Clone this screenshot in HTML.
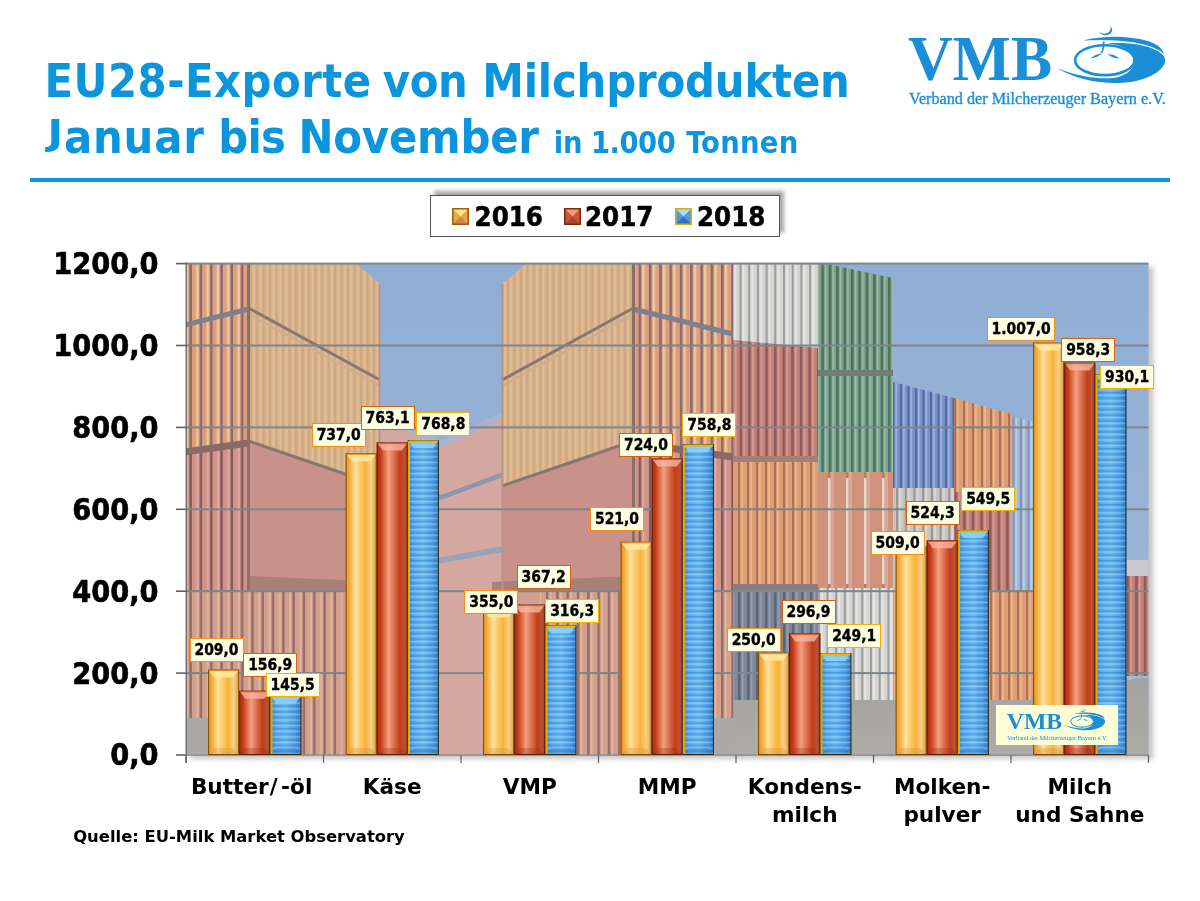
<!DOCTYPE html>
<html lang="de"><head><meta charset="utf-8"><title>EU28-Exporte von Milchprodukten</title>
<style>
html,body{margin:0;padding:0;background:#fff;}
body{width:1200px;height:901px;position:relative;overflow:hidden;}
.abs{position:absolute;left:0;top:0;}
.t{white-space:nowrap;line-height:1;}
.lab{position:absolute;box-sizing:border-box;height:24px;width:54px;background:#fdfde2;border:1.6px solid #f29018;
 font:bold 15.5px 'DejaVu Sans Condensed','DejaVu Sans','Liberation Sans',sans-serif;line-height:22.6px;text-align:center;-webkit-text-stroke:0.35px #000;color:#000;white-space:nowrap;}
.l17{border-color:#d9600e;}
.l18{border-color:#f6b200;}
.mk{position:absolute;width:17px;height:17px;box-sizing:border-box;}
</style></head><body>
<div class="abs t" style="left:44.5px;top:57.7px;font:bold 46.5px 'DejaVu Sans Condensed','DejaVu Sans','Liberation Sans',sans-serif;line-height:1;color:#0b95dc;letter-spacing:0.477px;">EU28-Exporte</div>
<div class="abs t" style="left:382.8px;top:57.7px;font:bold 46.5px 'DejaVu Sans Condensed','DejaVu Sans','Liberation Sans',sans-serif;line-height:1;color:#0b95dc;letter-spacing:-0.375px;">von</div>
<div class="abs t" style="left:482.2px;top:57.7px;font:bold 46.5px 'DejaVu Sans Condensed','DejaVu Sans','Liberation Sans',sans-serif;line-height:1;color:#0b95dc;letter-spacing:-0.173px;">Milchprodukten</div>
<div class="abs t" style="left:47.5px;top:114.2px;font:bold 46.5px 'DejaVu Sans Condensed','DejaVu Sans','Liberation Sans',sans-serif;line-height:1;color:#0b95dc;letter-spacing:0.85px;"><span style="display:inline-block;transform:scaleY(0.764);transform-origin:0 5.84px">J</span>anuar</div>
<div class="abs t" style="left:218.2px;top:114.2px;font:bold 46.5px 'DejaVu Sans Condensed','DejaVu Sans','Liberation Sans',sans-serif;line-height:1;color:#0b95dc;letter-spacing:-0.75px;">bis</div>
<div class="abs t" style="left:298.5px;top:114.2px;font:bold 46.5px 'DejaVu Sans Condensed','DejaVu Sans','Liberation Sans',sans-serif;line-height:1;color:#0b95dc;letter-spacing:-0.214px;">November</div>
<div class="abs t" style="left:553.8px;top:127.7px;font:bold 30.5px 'DejaVu Sans Condensed','DejaVu Sans','Liberation Sans',sans-serif;line-height:1;color:#0b95dc;letter-spacing:-0.25px;">in</div>
<div class="abs t" style="left:591.0px;top:127.7px;font:bold 30.5px 'DejaVu Sans Condensed','DejaVu Sans','Liberation Sans',sans-serif;line-height:1;color:#0b95dc;letter-spacing:-0.5px;">1.000</div>
<div class="abs t" style="left:686.2px;top:127.7px;font:bold 30.5px 'DejaVu Sans Condensed','DejaVu Sans','Liberation Sans',sans-serif;line-height:1;color:#0b95dc;letter-spacing:0.25px;">Tonnen</div>
<div class="abs t" style="left:908.0px;top:27.1px;font:bold 64px 'Liberation Serif','DejaVu Serif',serif;line-height:1;color:#1b8ed8;transform:scaleX(0.965);transform-origin:0 0;">VMB</div>
<div class="abs t" style="left:909.0px;top:90.9px;font:16.2px 'Liberation Serif','DejaVu Serif',serif;line-height:1;color:#1b8ed8;-webkit-text-stroke:0.35px #1b8ed8;">Verband der Milcherzeuger Bayern e.V.</div>
<svg class="abs" style="left:1050px;top:20px" width="120" height="70" viewBox="0 0 120 70">
<g fill="#1b8ed8">
<path d="M57,23.5 C80,21.5 105,26 113.5,35.5 C120,45 106,57.5 82,61.8 C58,65.5 28,61 7,48 C28,56.5 46,58.8 60,58.3 C74,57.6 84.4,50 84.4,40.5 C84,31 73,25 57,23.5 Z"/>
<path d="M33,20.5 C55,15 86,15.5 104,23.5 C110,26.5 113,30 114,34 C108,28.5 97,24.5 83,22.3 C66,19.8 49,19.6 33,20.5 Z"/>
<ellipse cx="54.8" cy="40.2" rx="29.6" ry="14.9" fill="none" stroke="#1b8ed8" stroke-width="2.6"/>
<path d="M48.5,11.5 C52,14.5 58,14.5 60,10.5 C61,8.5 61,7.2 60.3,6 C62.6,8 62.8,11.5 60.5,13.5 C57,16.3 51,15.5 48.5,11.5 Z"/>
<path d="M52.8,21.5 L54.6,21.5 C54.6,26 54,30.5 52,33.5 L50.6,33.2 C52.3,30 52.9,26 52.8,21.5 Z"/>
<path d="M40.5,38.6 C43,36 47,34.2 51.5,33.6 C49.5,36 45.5,38 40.5,38.6 Z"/>
<path d="M57.8,34 C62,34.2 66.5,35.8 69.5,38.6 C65,38.6 60.5,37 57.8,34 Z"/>
</g></svg>
<div class="abs" style="left:30px;top:178px;width:1140px;height:4px;background:#0b95dc"></div>
<svg class="abs" width="1200" height="901" viewBox="0 0 1200 901">
<defs><linearGradient id="sky" x1="0" y1="0" x2="0" y2="1">
<stop offset="0" stop-color="#90aed4"/><stop offset="0.6" stop-color="#98b4d6"/><stop offset="1" stop-color="#a6bed8"/></linearGradient>
<pattern id="ribTan" patternUnits="userSpaceOnUse" x="0" y="0" width="6.5" height="10"><rect width="6.5" height="10" fill="#d8b28a"/><rect x="0" width="2" height="10" fill="#cfa782"/><rect x="3" width="2" height="10" fill="#dfbe96"/></pattern>
<pattern id="ribSide" patternUnits="userSpaceOnUse" x="0" y="0" width="10.3" height="10"><rect width="10.3" height="10" fill="#dea27c"/><rect x="0" width="2.5" height="10" fill="#8c6474"/><rect x="3.5" width="2.5" height="10" fill="#ebcea0"/></pattern>
<pattern id="ribBlueL" patternUnits="userSpaceOnUse" x="0" y="0" width="7.5" height="10"><rect width="7.5" height="10" fill="#a2b6d2"/><rect x="0" width="2" height="10" fill="#8094b6"/><rect x="3" width="1.5" height="10" fill="#c4d4e6"/></pattern>
<pattern id="ribSide2" patternUnits="userSpaceOnUse" x="0" y="0" width="10.3" height="10"><rect width="10.3" height="10" fill="#dc9e7a"/><rect x="0" width="2.5" height="10" fill="#8e6872"/><rect x="3.5" width="2.5" height="10" fill="#e8c89c"/></pattern>
<pattern id="ribDoor" patternUnits="userSpaceOnUse" x="0" y="0" width="18" height="10"><rect width="18" height="10" fill="#d0927a"/><rect x="0" width="2" height="10" fill="#b87a66"/><rect x="3" width="3" height="10" fill="#dca690"/></pattern>
<pattern id="ribWhite2" patternUnits="userSpaceOnUse" x="0" y="0" width="8.7" height="10"><rect width="8.7" height="10" fill="#c8c4c0"/><rect x="0" width="2" height="10" fill="#969494"/><rect x="3" width="2" height="10" fill="#dad8d6"/></pattern>
<linearGradient id="ground" x1="0" y1="0" x2="0" y2="1"><stop offset="0" stop-color="#a4a2a0"/><stop offset="1" stop-color="#aeaca8"/></linearGradient>
<pattern id="ribRed" patternUnits="userSpaceOnUse" x="0" y="0" width="10.3" height="10"><rect width="10.3" height="10" fill="#d09488"/><rect x="0" width="2.5" height="10" fill="#845a60"/><rect x="3.5" width="2" height="10" fill="#e0aca0"/></pattern>
<pattern id="ribLow" patternUnits="userSpaceOnUse" x="0" y="0" width="10.3" height="10"><rect width="10.3" height="10" fill="#d2a08c"/><rect x="0" width="2.5" height="10" fill="#986c6c"/><rect x="3.5" width="2" height="10" fill="#e0b69c"/></pattern>
<pattern id="ribWhite" patternUnits="userSpaceOnUse" x="0" y="0" width="8.7" height="10"><rect width="8.7" height="10" fill="#d4d4d2"/><rect x="0" width="2" height="10" fill="#9c9c9c"/><rect x="3" width="2" height="10" fill="#e6e6e4"/></pattern>
<pattern id="ribRedE" patternUnits="userSpaceOnUse" x="0" y="0" width="8.6" height="10"><rect width="8.6" height="10" fill="#c28278"/><rect x="0" width="2.5" height="10" fill="#8c5a5a"/><rect x="3.5" width="2" height="10" fill="#d69a90"/></pattern>
<pattern id="ribOrange" patternUnits="userSpaceOnUse" x="0" y="0" width="9" height="10"><rect width="9" height="10" fill="#dc9e72"/><rect x="0" width="2" height="10" fill="#ae7058"/><rect x="3" width="2" height="10" fill="#e8b28a"/></pattern>
<pattern id="ribBlueGrey" patternUnits="userSpaceOnUse" x="0" y="0" width="9" height="10"><rect width="9" height="10" fill="#7e869a"/><rect x="0" width="2.5" height="10" fill="#5c6478"/><rect x="3.5" width="2" height="10" fill="#949cb0"/></pattern>
<pattern id="ribGreen" patternUnits="userSpaceOnUse" x="0" y="0" width="7.4" height="10"><rect width="7.4" height="10" fill="#7ca08a"/><rect x="0" width="2.5" height="10" fill="#4e6e5e"/><rect x="3.5" width="1.5" height="10" fill="#9ebea8"/></pattern>
<pattern id="ribGreen2" patternUnits="userSpaceOnUse" x="0" y="0" width="7.4" height="10"><rect width="7.4" height="10" fill="#7aa48c"/><rect x="0" width="2.5" height="10" fill="#4e7262"/><rect x="3.5" width="1.5" height="10" fill="#9cc2aa"/></pattern>
<pattern id="ribBlue" patternUnits="userSpaceOnUse" x="0" y="0" width="7.5" height="10"><rect width="7.5" height="10" fill="#7a92c8"/><rect x="0" width="2" height="10" fill="#5268a4"/><rect x="3" width="1.5" height="10" fill="#a2bae2"/></pattern>
<linearGradient id="gOr" x1="0" y1="0" x2="1" y2="0">
<stop offset="0" stop-color="#e8961e"/><stop offset="0.12" stop-color="#f4aa38"/>
<stop offset="0.32" stop-color="#ffe2a0"/><stop offset="0.48" stop-color="#fcc866"/>
<stop offset="0.65" stop-color="#f8b238"/><stop offset="0.82" stop-color="#f9d08a"/>
<stop offset="1" stop-color="#e49a34"/></linearGradient>
<linearGradient id="gRd" x1="0" y1="0" x2="1" y2="0">
<stop offset="0" stop-color="#a83010"/><stop offset="0.12" stop-color="#c83816"/>
<stop offset="0.38" stop-color="#f0a080"/><stop offset="0.52" stop-color="#e07a5a"/>
<stop offset="0.75" stop-color="#c43c18"/><stop offset="0.9" stop-color="#b85438"/>
<stop offset="1" stop-color="#983418"/></linearGradient>
<linearGradient id="gBl" x1="0" y1="0" x2="1" y2="0">
<stop offset="0" stop-color="#2e86d6"/><stop offset="0.2" stop-color="#58aaea"/>
<stop offset="0.5" stop-color="#6cbaf0"/><stop offset="0.8" stop-color="#4c9ee4"/>
<stop offset="1" stop-color="#2a76c2"/></linearGradient>
<pattern id="pBl" patternUnits="userSpaceOnUse" x="0" y="0" width="40" height="5.6">
<rect width="40" height="5.6" fill="none"/><rect y="0" width="40" height="1.5" fill="#2c78c8" fill-opacity="0.4"/>
<rect y="2.6" width="40" height="1.3" fill="#c8ecff" fill-opacity="0.4"/></pattern>
<linearGradient id="gBlMask" x1="0" y1="0" x2="1" y2="0">
<stop offset="0" stop-color="#fff" stop-opacity="0"/><stop offset="0.5" stop-color="#fff" stop-opacity="0.25"/>
<stop offset="1" stop-color="#fff" stop-opacity="0"/></linearGradient>
<filter id="blur3" x="-5%" y="-5%" width="110%" height="110%"><feGaussianBlur stdDeviation="2.5"/></filter>
<clipPath id="cR"><rect x="441.0" y="263.6" width="707.5" height="491.4"/></clipPath>
<clipPath id="cL"><rect x="186.0" y="263.6" width="255.0" height="491.4"/></clipPath></defs>
<rect x="190.0" y="266.6" width="963.5" height="492.4" fill="#000" fill-opacity="0.22" filter="url(#blur3)"/>
<g clip-path="url(#cR)"><rect x="141.0" y="261.6" width="1100.0" height="495.4" fill="url(#sky)" />
<polygon points="425.0,448.0 503.0,412.0 503.0,760.0 425.0,760.0" fill="#d4a8a0" />
<polygon points="425.0,448.0 503.0,412.0 503.0,419.0 425.0,455.0" fill="#a8b4cc" />
<polygon points="425.0,501.0 503.0,472.0 503.0,477.0 425.0,506.0" fill="#8e96ac" />
<polygon points="425.0,560.0 503.0,546.0 503.0,552.0 425.0,566.0" fill="#98a4bc" />
<polygon points="502.0,284.0 528.0,262.0 633.5,262.0 633.5,441.0 502.0,487.0" fill="url(#ribTan)" />
<polygon points="502.0,487.0 633.5,441.0 633.5,592.0 502.0,592.0" fill="#c8928a" />
<rect x="502.0" y="590.0" width="40.0" height="170.0" fill="#d2a092" />
<rect x="540.0" y="590.0" width="200.0" height="170.0" fill="url(#ribLow)" />
<polygon points="492.0,582.0 633.5,576.0 742.0,584.0 742.0,592.0 492.0,592.0" fill="#a88078" />
<line x1="502.0" y1="380.0" x2="633.5" y2="308.0" stroke="#8a7670" stroke-width="3" />
<line x1="502.0" y1="386.0" x2="633.5" y2="314.0" stroke="#cfae8e" stroke-width="2" />
<line x1="502.0" y1="486.0" x2="633.5" y2="441.0" stroke="#8a7670" stroke-width="3" />
<line x1="502.5" y1="284.0" x2="502.5" y2="760.0" stroke="#b89484" stroke-width="2" />
<polygon points="633.5,262.0 733.5,262.0 733.5,337.0 633.5,308.0" fill="url(#ribSide)" />
<polygon points="633.5,308.0 733.5,337.0 733.5,456.0 633.5,442.0" fill="url(#ribSide2)" />
<polygon points="633.5,442.0 733.5,456.0 733.5,590.0 633.5,590.0" fill="url(#ribRed)" />
<line x1="633.5" y1="309.0" x2="733.0" y2="334.0" stroke="#7e8090" stroke-width="5" />
<line x1="633.5" y1="443.0" x2="733.0" y2="457.0" stroke="#8a6a66" stroke-width="7" />
<line x1="633.5" y1="262.0" x2="633.5" y2="590.0" stroke="#8a7068" stroke-width="3" />
<polygon points="733.5,262.0 818.0,262.0 818.0,348.0 733.5,340.0" fill="url(#ribWhite)" />
<polygon points="733.5,340.0 818.0,348.0 818.0,462.0 733.5,460.0" fill="url(#ribRedE)" />
<rect x="733.5" y="460.0" width="85.0" height="128.0" fill="url(#ribOrange)" />
<rect x="733.5" y="588.0" width="85.0" height="112.0" fill="url(#ribBlueGrey)" />
<rect x="733.5" y="584.0" width="85.0" height="7.0" fill="#8a7c7e" />
<rect x="733.5" y="456.0" width="85.0" height="6.0" fill="#a08078" />
<polygon points="818.0,262.0 893.0,278.0 893.0,376.0 818.0,372.0" fill="url(#ribGreen)" />
<rect x="818.0" y="372.0" width="75.0" height="102.0" fill="url(#ribGreen2)" />
<rect x="818.0" y="370.0" width="75.0" height="6.0" fill="#6e7e72" />
<rect x="818.0" y="472.0" width="75.0" height="116.0" fill="url(#ribDoor)" />
<rect x="828.0" y="478.0" width="2.5" height="106.0" fill="#e2d8d2" />
<rect x="846.0" y="478.0" width="2.5" height="106.0" fill="#e2d8d2" />
<rect x="864.0" y="478.0" width="2.5" height="106.0" fill="#e2d8d2" />
<rect x="882.0" y="478.0" width="2.5" height="106.0" fill="#e2d8d2" />
<rect x="818.0" y="588.0" width="75.0" height="112.0" fill="url(#ribWhite)" />
<polygon points="893.0,382.0 954.0,398.0 954.0,488.0 893.0,488.0" fill="url(#ribBlue)" />
<rect x="893.0" y="488.0" width="61.0" height="102.0" fill="url(#ribWhite2)" />
<rect x="893.0" y="590.0" width="61.0" height="112.0" fill="url(#ribOrange)" />
<polygon points="954.0,398.0 1011.0,414.0 1011.0,492.0 954.0,492.0" fill="url(#ribOrange)" />
<rect x="954.0" y="492.0" width="57.0" height="98.0" fill="url(#ribRedE)" />
<rect x="954.0" y="590.0" width="57.0" height="112.0" fill="url(#ribOrange)" />
<polygon points="1011.0,416.0 1042.0,424.0 1042.0,592.0 1011.0,592.0" fill="url(#ribBlueL)" />
<rect x="1011.0" y="590.0" width="31.0" height="112.0" fill="url(#ribOrange)" />
<rect x="1042.0" y="560.0" width="110.0" height="16.0" fill="#c9c9cd" />
<rect x="1042.0" y="576.0" width="110.0" height="100.0" fill="url(#ribRedE)" />
<polygon points="733.5,700.0 1042.0,700.0 1042.0,690.0 1160.0,676.0 1160.0,760.0 733.5,760.0" fill="url(#ground)" />
<rect x="640.0" y="718.0" width="94.0" height="42.0" fill="#aca8a8" /></g>
<g clip-path="url(#cL)"><g transform="translate(882.0,0) scale(-1,1)"><rect x="141.0" y="261.6" width="1100.0" height="495.4" fill="url(#sky)" />
<polygon points="425.0,448.0 503.0,412.0 503.0,760.0 425.0,760.0" fill="#d4a8a0" />
<polygon points="425.0,448.0 503.0,412.0 503.0,419.0 425.0,455.0" fill="#a8b4cc" />
<polygon points="425.0,501.0 503.0,472.0 503.0,477.0 425.0,506.0" fill="#8e96ac" />
<polygon points="425.0,560.0 503.0,546.0 503.0,552.0 425.0,566.0" fill="#98a4bc" />
<polygon points="502.0,284.0 528.0,262.0 633.5,262.0 633.5,441.0 502.0,487.0" fill="url(#ribTan)" />
<polygon points="502.0,487.0 633.5,441.0 633.5,592.0 502.0,592.0" fill="#c8928a" />
<rect x="502.0" y="590.0" width="40.0" height="170.0" fill="#d2a092" />
<rect x="540.0" y="590.0" width="200.0" height="170.0" fill="url(#ribLow)" />
<polygon points="492.0,582.0 633.5,576.0 742.0,584.0 742.0,592.0 492.0,592.0" fill="#a88078" />
<line x1="502.0" y1="380.0" x2="633.5" y2="308.0" stroke="#8a7670" stroke-width="3" />
<line x1="502.0" y1="386.0" x2="633.5" y2="314.0" stroke="#cfae8e" stroke-width="2" />
<line x1="502.0" y1="486.0" x2="633.5" y2="441.0" stroke="#8a7670" stroke-width="3" />
<line x1="502.5" y1="284.0" x2="502.5" y2="760.0" stroke="#b89484" stroke-width="2" />
<polygon points="633.5,262.0 733.5,262.0 733.5,337.0 633.5,308.0" fill="url(#ribSide)" />
<polygon points="633.5,308.0 733.5,337.0 733.5,456.0 633.5,442.0" fill="url(#ribSide2)" />
<polygon points="633.5,442.0 733.5,456.0 733.5,590.0 633.5,590.0" fill="url(#ribRed)" />
<line x1="633.5" y1="309.0" x2="733.0" y2="334.0" stroke="#7e8090" stroke-width="5" />
<line x1="633.5" y1="443.0" x2="733.0" y2="457.0" stroke="#8a6a66" stroke-width="7" />
<line x1="633.5" y1="262.0" x2="633.5" y2="590.0" stroke="#8a7068" stroke-width="3" />
<polygon points="733.5,262.0 818.0,262.0 818.0,348.0 733.5,340.0" fill="url(#ribWhite)" />
<polygon points="733.5,340.0 818.0,348.0 818.0,462.0 733.5,460.0" fill="url(#ribRedE)" />
<rect x="733.5" y="460.0" width="85.0" height="128.0" fill="url(#ribOrange)" />
<rect x="733.5" y="588.0" width="85.0" height="112.0" fill="url(#ribBlueGrey)" />
<rect x="733.5" y="584.0" width="85.0" height="7.0" fill="#8a7c7e" />
<rect x="733.5" y="456.0" width="85.0" height="6.0" fill="#a08078" />
<polygon points="818.0,262.0 893.0,278.0 893.0,376.0 818.0,372.0" fill="url(#ribGreen)" />
<rect x="818.0" y="372.0" width="75.0" height="102.0" fill="url(#ribGreen2)" />
<rect x="818.0" y="370.0" width="75.0" height="6.0" fill="#6e7e72" />
<rect x="818.0" y="472.0" width="75.0" height="116.0" fill="url(#ribDoor)" />
<rect x="828.0" y="478.0" width="2.5" height="106.0" fill="#e2d8d2" />
<rect x="846.0" y="478.0" width="2.5" height="106.0" fill="#e2d8d2" />
<rect x="864.0" y="478.0" width="2.5" height="106.0" fill="#e2d8d2" />
<rect x="882.0" y="478.0" width="2.5" height="106.0" fill="#e2d8d2" />
<rect x="818.0" y="588.0" width="75.0" height="112.0" fill="url(#ribWhite)" />
<polygon points="893.0,382.0 954.0,398.0 954.0,488.0 893.0,488.0" fill="url(#ribBlue)" />
<rect x="893.0" y="488.0" width="61.0" height="102.0" fill="url(#ribWhite2)" />
<rect x="893.0" y="590.0" width="61.0" height="112.0" fill="url(#ribOrange)" />
<polygon points="954.0,398.0 1011.0,414.0 1011.0,492.0 954.0,492.0" fill="url(#ribOrange)" />
<rect x="954.0" y="492.0" width="57.0" height="98.0" fill="url(#ribRedE)" />
<rect x="954.0" y="590.0" width="57.0" height="112.0" fill="url(#ribOrange)" />
<polygon points="1011.0,416.0 1042.0,424.0 1042.0,592.0 1011.0,592.0" fill="url(#ribBlueL)" />
<rect x="1011.0" y="590.0" width="31.0" height="112.0" fill="url(#ribOrange)" />
<rect x="1042.0" y="560.0" width="110.0" height="16.0" fill="#c9c9cd" />
<rect x="1042.0" y="576.0" width="110.0" height="100.0" fill="url(#ribRedE)" />
<polygon points="733.5,700.0 1042.0,700.0 1042.0,690.0 1160.0,676.0 1160.0,760.0 733.5,760.0" fill="url(#ground)" />
<rect x="640.0" y="718.0" width="94.0" height="42.0" fill="#aca8a8" /></g></g>
<rect x="186.0" y="672.1" width="962.5" height="2.0" fill="#7c868e" />
<rect x="186.0" y="590.2" width="962.5" height="2.0" fill="#7c868e" />
<rect x="186.0" y="508.3" width="962.5" height="2.0" fill="#7c868e" />
<rect x="186.0" y="426.4" width="962.5" height="2.0" fill="#7c868e" />
<rect x="186.0" y="344.5" width="962.5" height="2.0" fill="#7c868e" />
<rect x="186.0" y="262.6" width="962.5" height="2.0" fill="#7c868e" />
<rect x="176.0" y="754.2" width="10.0" height="1.6" fill="#606060" />
<rect x="176.0" y="672.3" width="10.0" height="1.6" fill="#606060" />
<rect x="176.0" y="590.4" width="10.0" height="1.6" fill="#606060" />
<rect x="176.0" y="508.5" width="10.0" height="1.6" fill="#606060" />
<rect x="176.0" y="426.6" width="10.0" height="1.6" fill="#606060" />
<rect x="176.0" y="344.7" width="10.0" height="1.6" fill="#606060" />
<rect x="176.0" y="262.8" width="10.0" height="1.6" fill="#606060" />
<rect x="185.6" y="262.6" width="1.2" height="500.4" fill="#5a6060" />
<rect x="186.0" y="754.4" width="962.5" height="1.4" fill="#8a8c92" />
<rect x="185.4" y="755.0" width="1.2" height="8.0" fill="#606060" />
<rect x="322.9" y="755.0" width="1.2" height="8.0" fill="#606060" />
<rect x="460.4" y="755.0" width="1.2" height="8.0" fill="#606060" />
<rect x="597.9" y="755.0" width="1.2" height="8.0" fill="#606060" />
<rect x="735.4" y="755.0" width="1.2" height="8.0" fill="#606060" />
<rect x="872.9" y="755.0" width="1.2" height="8.0" fill="#606060" />
<rect x="1010.4" y="755.0" width="1.2" height="8.0" fill="#606060" />
<rect x="1147.9" y="755.0" width="1.2" height="8.0" fill="#606060" />
<rect x="208.1" y="669.4" width="31.1" height="85.6" fill="url(#gOr)" />
<polygon points="209.1,670.4 238.2,670.4 233.2,677.4 214.1,677.4" fill="#ffeaa0" fill-opacity="0.85"/>
<polygon points="214.1,748.0 233.2,748.0 238.2,754.0 209.1,754.0" fill="#d89040" fill-opacity="0.35"/>
<rect x="208.6" y="669.9" width="30.1" height="84.6" fill="none" stroke="#7a4a08" stroke-width="1"/>
<line x1="209.1" y1="670.4" x2="238.2" y2="670.4" stroke="#e88a20" stroke-width="1.2" />
<rect x="239.2" y="690.7" width="31.1" height="64.3" fill="url(#gRd)" />
<polygon points="240.2,691.7 269.3,691.7 264.3,698.7 245.2,698.7" fill="#f8b4a0" fill-opacity="0.8"/>
<polygon points="245.2,748.0 264.3,748.0 269.3,754.0 240.2,754.0" fill="#983018" fill-opacity="0.3"/>
<rect x="239.7" y="691.2" width="30.1" height="63.3" fill="none" stroke="#5a1e0a" stroke-width="1"/>
<line x1="240.2" y1="691.7" x2="269.3" y2="691.7" stroke="#e0601c" stroke-width="1.2" />
<rect x="270.3" y="695.4" width="31.1" height="59.6" fill="url(#gBl)" />
<rect x="270.3" y="695.4" width="31.1" height="59.6" fill="url(#pBl)" />
<polygon points="271.3,696.4 300.4,696.4 295.4,703.4 276.3,703.4" fill="#8cd4fa" fill-opacity="0.85"/>
<polygon points="276.3,748.0 295.4,748.0 300.4,754.0 271.3,754.0" fill="#2468b0" fill-opacity="0.3"/>
<rect x="270.8" y="695.9" width="30.1" height="58.6" fill="none" stroke="#3a2a08" stroke-width="1"/>
<line x1="271.5" y1="696.4" x2="271.5" y2="754.0" stroke="#e8a800" stroke-width="2" />
<line x1="271.3" y1="696.6" x2="300.4" y2="696.6" stroke="#f0b000" stroke-width="2" />
<rect x="345.6" y="453.2" width="31.1" height="301.8" fill="url(#gOr)" />
<polygon points="346.6,454.2 375.7,454.2 370.7,461.2 351.6,461.2" fill="#ffeaa0" fill-opacity="0.85"/>
<polygon points="351.6,748.0 370.7,748.0 375.7,754.0 346.6,754.0" fill="#d89040" fill-opacity="0.35"/>
<rect x="346.1" y="453.7" width="30.1" height="300.8" fill="none" stroke="#7a4a08" stroke-width="1"/>
<line x1="346.6" y1="454.2" x2="375.7" y2="454.2" stroke="#e88a20" stroke-width="1.2" />
<rect x="376.7" y="442.5" width="31.1" height="312.5" fill="url(#gRd)" />
<polygon points="377.7,443.5 406.8,443.5 401.8,450.5 382.7,450.5" fill="#f8b4a0" fill-opacity="0.8"/>
<polygon points="382.7,748.0 401.8,748.0 406.8,754.0 377.7,754.0" fill="#983018" fill-opacity="0.3"/>
<rect x="377.2" y="443.0" width="30.1" height="311.5" fill="none" stroke="#5a1e0a" stroke-width="1"/>
<line x1="377.7" y1="443.5" x2="406.8" y2="443.5" stroke="#e0601c" stroke-width="1.2" />
<rect x="407.8" y="440.2" width="31.1" height="314.8" fill="url(#gBl)" />
<rect x="407.8" y="440.2" width="31.1" height="314.8" fill="url(#pBl)" />
<polygon points="408.8,441.2 437.9,441.2 432.9,448.2 413.8,448.2" fill="#8cd4fa" fill-opacity="0.85"/>
<polygon points="413.8,748.0 432.9,748.0 437.9,754.0 408.8,754.0" fill="#2468b0" fill-opacity="0.3"/>
<rect x="408.3" y="440.7" width="30.1" height="313.8" fill="none" stroke="#3a2a08" stroke-width="1"/>
<line x1="409.0" y1="441.2" x2="409.0" y2="754.0" stroke="#e8a800" stroke-width="2" />
<line x1="408.8" y1="441.4" x2="437.9" y2="441.4" stroke="#f0b000" stroke-width="2" />
<rect x="483.1" y="609.6" width="31.1" height="145.4" fill="url(#gOr)" />
<polygon points="484.1,610.6 513.2,610.6 508.2,617.6 489.1,617.6" fill="#ffeaa0" fill-opacity="0.85"/>
<polygon points="489.1,748.0 508.2,748.0 513.2,754.0 484.1,754.0" fill="#d89040" fill-opacity="0.35"/>
<rect x="483.6" y="610.1" width="30.1" height="144.4" fill="none" stroke="#7a4a08" stroke-width="1"/>
<line x1="484.1" y1="610.6" x2="513.2" y2="610.6" stroke="#e88a20" stroke-width="1.2" />
<rect x="514.2" y="604.6" width="31.1" height="150.4" fill="url(#gRd)" />
<polygon points="515.2,605.6 544.3,605.6 539.3,612.6 520.2,612.6" fill="#f8b4a0" fill-opacity="0.8"/>
<polygon points="520.2,748.0 539.3,748.0 544.3,754.0 515.2,754.0" fill="#983018" fill-opacity="0.3"/>
<rect x="514.7" y="605.1" width="30.1" height="149.4" fill="none" stroke="#5a1e0a" stroke-width="1"/>
<line x1="515.2" y1="605.6" x2="544.3" y2="605.6" stroke="#e0601c" stroke-width="1.2" />
<rect x="545.3" y="625.5" width="31.1" height="129.5" fill="url(#gBl)" />
<rect x="545.3" y="625.5" width="31.1" height="129.5" fill="url(#pBl)" />
<polygon points="546.3,626.5 575.4,626.5 570.4,633.5 551.3,633.5" fill="#8cd4fa" fill-opacity="0.85"/>
<polygon points="551.3,748.0 570.4,748.0 575.4,754.0 546.3,754.0" fill="#2468b0" fill-opacity="0.3"/>
<rect x="545.8" y="626.0" width="30.1" height="128.5" fill="none" stroke="#3a2a08" stroke-width="1"/>
<line x1="546.5" y1="626.5" x2="546.5" y2="754.0" stroke="#e8a800" stroke-width="2" />
<line x1="546.3" y1="626.7" x2="575.4" y2="626.7" stroke="#f0b000" stroke-width="2" />
<rect x="620.6" y="541.7" width="31.1" height="213.3" fill="url(#gOr)" />
<polygon points="621.6,542.7 650.7,542.7 645.7,549.7 626.6,549.7" fill="#ffeaa0" fill-opacity="0.85"/>
<polygon points="626.6,748.0 645.7,748.0 650.7,754.0 621.6,754.0" fill="#d89040" fill-opacity="0.35"/>
<rect x="621.1" y="542.2" width="30.1" height="212.3" fill="none" stroke="#7a4a08" stroke-width="1"/>
<line x1="621.6" y1="542.7" x2="650.7" y2="542.7" stroke="#e88a20" stroke-width="1.2" />
<rect x="651.7" y="458.5" width="31.1" height="296.5" fill="url(#gRd)" />
<polygon points="652.7,459.5 681.8,459.5 676.8,466.5 657.7,466.5" fill="#f8b4a0" fill-opacity="0.8"/>
<polygon points="657.7,748.0 676.8,748.0 681.8,754.0 652.7,754.0" fill="#983018" fill-opacity="0.3"/>
<rect x="652.2" y="459.0" width="30.1" height="295.5" fill="none" stroke="#5a1e0a" stroke-width="1"/>
<line x1="652.7" y1="459.5" x2="681.8" y2="459.5" stroke="#e0601c" stroke-width="1.2" />
<rect x="682.8" y="444.3" width="31.1" height="310.7" fill="url(#gBl)" />
<rect x="682.8" y="444.3" width="31.1" height="310.7" fill="url(#pBl)" />
<polygon points="683.8,445.3 712.9,445.3 707.9,452.3 688.8,452.3" fill="#8cd4fa" fill-opacity="0.85"/>
<polygon points="688.8,748.0 707.9,748.0 712.9,754.0 683.8,754.0" fill="#2468b0" fill-opacity="0.3"/>
<rect x="683.3" y="444.8" width="30.1" height="309.7" fill="none" stroke="#3a2a08" stroke-width="1"/>
<line x1="684.0" y1="445.3" x2="684.0" y2="754.0" stroke="#e8a800" stroke-width="2" />
<line x1="683.8" y1="445.5" x2="712.9" y2="445.5" stroke="#f0b000" stroke-width="2" />
<rect x="758.1" y="652.6" width="31.1" height="102.4" fill="url(#gOr)" />
<polygon points="759.1,653.6 788.2,653.6 783.2,660.6 764.1,660.6" fill="#ffeaa0" fill-opacity="0.85"/>
<polygon points="764.1,748.0 783.2,748.0 788.2,754.0 759.1,754.0" fill="#d89040" fill-opacity="0.35"/>
<rect x="758.6" y="653.1" width="30.1" height="101.4" fill="none" stroke="#7a4a08" stroke-width="1"/>
<line x1="759.1" y1="653.6" x2="788.2" y2="653.6" stroke="#e88a20" stroke-width="1.2" />
<rect x="789.2" y="633.4" width="31.1" height="121.6" fill="url(#gRd)" />
<polygon points="790.2,634.4 819.3,634.4 814.3,641.4 795.2,641.4" fill="#f8b4a0" fill-opacity="0.8"/>
<polygon points="795.2,748.0 814.3,748.0 819.3,754.0 790.2,754.0" fill="#983018" fill-opacity="0.3"/>
<rect x="789.7" y="633.9" width="30.1" height="120.6" fill="none" stroke="#5a1e0a" stroke-width="1"/>
<line x1="790.2" y1="634.4" x2="819.3" y2="634.4" stroke="#e0601c" stroke-width="1.2" />
<rect x="820.3" y="653.0" width="31.1" height="102.0" fill="url(#gBl)" />
<rect x="820.3" y="653.0" width="31.1" height="102.0" fill="url(#pBl)" />
<polygon points="821.3,654.0 850.4,654.0 845.4,661.0 826.3,661.0" fill="#8cd4fa" fill-opacity="0.85"/>
<polygon points="826.3,748.0 845.4,748.0 850.4,754.0 821.3,754.0" fill="#2468b0" fill-opacity="0.3"/>
<rect x="820.8" y="653.5" width="30.1" height="101.0" fill="none" stroke="#3a2a08" stroke-width="1"/>
<line x1="821.5" y1="654.0" x2="821.5" y2="754.0" stroke="#e8a800" stroke-width="2" />
<line x1="821.3" y1="654.2" x2="850.4" y2="654.2" stroke="#f0b000" stroke-width="2" />
<rect x="895.6" y="546.6" width="31.1" height="208.4" fill="url(#gOr)" />
<polygon points="896.6,547.6 925.7,547.6 920.7,554.6 901.6,554.6" fill="#ffeaa0" fill-opacity="0.85"/>
<polygon points="901.6,748.0 920.7,748.0 925.7,754.0 896.6,754.0" fill="#d89040" fill-opacity="0.35"/>
<rect x="896.1" y="547.1" width="30.1" height="207.4" fill="none" stroke="#7a4a08" stroke-width="1"/>
<line x1="896.6" y1="547.6" x2="925.7" y2="547.6" stroke="#e88a20" stroke-width="1.2" />
<rect x="926.7" y="540.3" width="31.1" height="214.7" fill="url(#gRd)" />
<polygon points="927.7,541.3 956.8,541.3 951.8,548.3 932.7,548.3" fill="#f8b4a0" fill-opacity="0.8"/>
<polygon points="932.7,748.0 951.8,748.0 956.8,754.0 927.7,754.0" fill="#983018" fill-opacity="0.3"/>
<rect x="927.2" y="540.8" width="30.1" height="213.7" fill="none" stroke="#5a1e0a" stroke-width="1"/>
<line x1="927.7" y1="541.3" x2="956.8" y2="541.3" stroke="#e0601c" stroke-width="1.2" />
<rect x="957.8" y="530.0" width="31.1" height="225.0" fill="url(#gBl)" />
<rect x="957.8" y="530.0" width="31.1" height="225.0" fill="url(#pBl)" />
<polygon points="958.8,531.0 987.9,531.0 982.9,538.0 963.8,538.0" fill="#8cd4fa" fill-opacity="0.85"/>
<polygon points="963.8,748.0 982.9,748.0 987.9,754.0 958.8,754.0" fill="#2468b0" fill-opacity="0.3"/>
<rect x="958.3" y="530.5" width="30.1" height="224.0" fill="none" stroke="#3a2a08" stroke-width="1"/>
<line x1="959.0" y1="531.0" x2="959.0" y2="754.0" stroke="#e8a800" stroke-width="2" />
<line x1="958.8" y1="531.2" x2="987.9" y2="531.2" stroke="#f0b000" stroke-width="2" />
<rect x="1033.1" y="342.6" width="31.1" height="412.4" fill="url(#gOr)" />
<polygon points="1034.1,343.6 1063.2,343.6 1058.2,350.6 1039.1,350.6" fill="#ffeaa0" fill-opacity="0.85"/>
<polygon points="1039.1,748.0 1058.2,748.0 1063.2,754.0 1034.1,754.0" fill="#d89040" fill-opacity="0.35"/>
<rect x="1033.6" y="343.1" width="30.1" height="411.4" fill="none" stroke="#7a4a08" stroke-width="1"/>
<line x1="1034.1" y1="343.6" x2="1063.2" y2="343.6" stroke="#e88a20" stroke-width="1.2" />
<rect x="1064.2" y="362.6" width="31.1" height="392.4" fill="url(#gRd)" />
<polygon points="1065.2,363.6 1094.3,363.6 1089.3,370.6 1070.2,370.6" fill="#f8b4a0" fill-opacity="0.8"/>
<polygon points="1070.2,748.0 1089.3,748.0 1094.3,754.0 1065.2,754.0" fill="#983018" fill-opacity="0.3"/>
<rect x="1064.7" y="363.1" width="30.1" height="391.4" fill="none" stroke="#5a1e0a" stroke-width="1"/>
<line x1="1065.2" y1="363.6" x2="1094.3" y2="363.6" stroke="#e0601c" stroke-width="1.2" />
<rect x="1095.3" y="374.1" width="31.1" height="380.9" fill="url(#gBl)" />
<rect x="1095.3" y="374.1" width="31.1" height="380.9" fill="url(#pBl)" />
<polygon points="1096.3,375.1 1125.4,375.1 1120.4,382.1 1101.3,382.1" fill="#8cd4fa" fill-opacity="0.85"/>
<polygon points="1101.3,748.0 1120.4,748.0 1125.4,754.0 1096.3,754.0" fill="#2468b0" fill-opacity="0.3"/>
<rect x="1095.8" y="374.6" width="30.1" height="379.9" fill="none" stroke="#3a2a08" stroke-width="1"/>
<line x1="1096.5" y1="375.1" x2="1096.5" y2="754.0" stroke="#e8a800" stroke-width="2" />
<line x1="1096.3" y1="375.3" x2="1125.4" y2="375.3" stroke="#f0b000" stroke-width="2" />
</svg>
<div class="abs" style="left:430px;top:195px;width:350px;height:42px;box-sizing:border-box;border:1px solid #555;background:#fff;box-shadow:4px -4px 4px rgba(0,0,0,0.35)"></div>
<svg class="abs" style="left:452.1px;top:208.3px" width="17" height="17" viewBox="0 0 17 17">
<rect x="0" y="0" width="17" height="17" fill="#eca444"/>
<polygon points="1,1 16,1 8.5,8.5" fill="#ffe890"/>
<polygon points="1,16 16,16 8.5,8.5" fill="#c88a44"/>
<rect x="0.75" y="0.75" width="15.5" height="15.5" fill="none" stroke="#9a5c10" stroke-width="1.5"/></svg>
<div class="abs t" style="left:474.6px;top:202.7px;font:bold 27.3px 'DejaVu Sans Condensed','DejaVu Sans','Liberation Sans',sans-serif;line-height:1;color:#000;-webkit-text-stroke:0.5px #000;">2016</div>
<svg class="abs" style="left:563.6px;top:208.3px" width="17" height="17" viewBox="0 0 17 17">
<rect x="0" y="0" width="17" height="17" fill="#cc5634"/>
<polygon points="1,1 16,1 8.5,8.5" fill="#f39a7c"/>
<polygon points="1,16 16,16 8.5,8.5" fill="#a8452a"/>
<rect x="0.75" y="0.75" width="15.5" height="15.5" fill="none" stroke="#7a2a10" stroke-width="1.5"/></svg>
<div class="abs t" style="left:585.0px;top:202.7px;font:bold 27.3px 'DejaVu Sans Condensed','DejaVu Sans','Liberation Sans',sans-serif;line-height:1;color:#000;-webkit-text-stroke:0.5px #000;">2017</div>
<svg class="abs" style="left:675.0px;top:208.3px" width="17" height="17" viewBox="0 0 17 17">
<rect x="0" y="0" width="17" height="17" fill="#4a9ce0"/>
<polygon points="1,1 16,1 8.5,8.5" fill="#a6e0ff"/>
<polygon points="1,16 16,16 8.5,8.5" fill="#2e74bc"/>
<rect x="0.75" y="0.75" width="15.5" height="15.5" fill="none" stroke="#e8a800" stroke-width="1.5"/></svg>
<div class="abs t" style="left:697.0px;top:202.7px;font:bold 27.3px 'DejaVu Sans Condensed','DejaVu Sans','Liberation Sans',sans-serif;line-height:1;color:#000;-webkit-text-stroke:0.5px #000;">2018</div>
<div class="abs t" style="left:0;width:158.5px;text-align:right;top:740.4px;font:bold 30.3px 'DejaVu Sans Condensed','DejaVu Sans','Liberation Sans',sans-serif;line-height:1;-webkit-text-stroke:0.6px #000">0,0</div>
<div class="abs t" style="left:0;width:158.5px;text-align:right;top:658.5px;font:bold 30.3px 'DejaVu Sans Condensed','DejaVu Sans','Liberation Sans',sans-serif;line-height:1;-webkit-text-stroke:0.6px #000">200,0</div>
<div class="abs t" style="left:0;width:158.5px;text-align:right;top:576.6px;font:bold 30.3px 'DejaVu Sans Condensed','DejaVu Sans','Liberation Sans',sans-serif;line-height:1;-webkit-text-stroke:0.6px #000">400,0</div>
<div class="abs t" style="left:0;width:158.5px;text-align:right;top:494.7px;font:bold 30.3px 'DejaVu Sans Condensed','DejaVu Sans','Liberation Sans',sans-serif;line-height:1;-webkit-text-stroke:0.6px #000">600,0</div>
<div class="abs t" style="left:0;width:158.5px;text-align:right;top:412.8px;font:bold 30.3px 'DejaVu Sans Condensed','DejaVu Sans','Liberation Sans',sans-serif;line-height:1;-webkit-text-stroke:0.6px #000">800,0</div>
<div class="abs t" style="left:0;width:158.5px;text-align:right;top:330.9px;font:bold 30.3px 'DejaVu Sans Condensed','DejaVu Sans','Liberation Sans',sans-serif;line-height:1;-webkit-text-stroke:0.6px #000">1000,0</div>
<div class="abs t" style="left:0;width:158.5px;text-align:right;top:249.0px;font:bold 30.3px 'DejaVu Sans Condensed','DejaVu Sans','Liberation Sans',sans-serif;line-height:1;-webkit-text-stroke:0.6px #000">1200,0</div>
<div class="abs t" style="left:171.6px;width:160px;text-align:center;top:776.2px;font:bold 21.6px 'DejaVu Sans','Liberation Sans',sans-serif;line-height:1">Butter<span style="margin:0 3.5px 0 1px">/</span>-öl</div>
<div class="abs t" style="left:312.2px;width:160px;text-align:center;top:776.2px;font:bold 21.6px 'DejaVu Sans','Liberation Sans',sans-serif;line-height:1">Käse</div>
<div class="abs t" style="left:449.8px;width:160px;text-align:center;top:776.2px;font:bold 21.6px 'DejaVu Sans','Liberation Sans',sans-serif;line-height:1">VMP</div>
<div class="abs t" style="left:587.2px;width:160px;text-align:center;top:776.2px;font:bold 21.6px 'DejaVu Sans','Liberation Sans',sans-serif;line-height:1">MMP</div>
<div class="abs t" style="left:724.8px;width:160px;text-align:center;top:776.2px;font:bold 21.6px 'DejaVu Sans','Liberation Sans',sans-serif;line-height:1">Kondens-</div>
<div class="abs t" style="left:724.8px;width:160px;text-align:center;top:803.6px;font:bold 21.6px 'DejaVu Sans','Liberation Sans',sans-serif;line-height:1">milch</div>
<div class="abs t" style="left:862.2px;width:160px;text-align:center;top:776.2px;font:bold 21.6px 'DejaVu Sans','Liberation Sans',sans-serif;line-height:1">Molken-</div>
<div class="abs t" style="left:862.2px;width:160px;text-align:center;top:803.6px;font:bold 21.6px 'DejaVu Sans','Liberation Sans',sans-serif;line-height:1">pulver</div>
<div class="abs t" style="left:999.8px;width:160px;text-align:center;top:776.2px;font:bold 21.6px 'DejaVu Sans','Liberation Sans',sans-serif;line-height:1">Milch</div>
<div class="abs t" style="left:999.8px;width:160px;text-align:center;top:803.6px;font:bold 21.6px 'DejaVu Sans','Liberation Sans',sans-serif;line-height:1">und Sahne</div>
<div class="lab" style="left:189.5px;top:638.2px;width:54px">209,0</div>
<div class="lab l17" style="left:243.2px;top:652.7px;width:54px">156,9</div>
<div class="lab l18" style="left:265.6px;top:672.6px;width:54px">145,5</div>
<div class="lab" style="left:311.7px;top:423.3px;width:54px">737,0</div>
<div class="lab l17" style="left:360.6px;top:406.4px;width:54px">763,1</div>
<div class="lab l18" style="left:416.3px;top:412.4px;width:54px">768,8</div>
<div class="lab" style="left:464.4px;top:590.0px;width:54px">355,0</div>
<div class="lab l17" style="left:516.6px;top:565.3px;width:54px">367,2</div>
<div class="lab l18" style="left:545.2px;top:599.3px;width:54px">316,3</div>
<div class="lab" style="left:590.0px;top:507.0px;width:54px">521,0</div>
<div class="lab l17" style="left:619.0px;top:432.5px;width:54px">724,0</div>
<div class="lab l18" style="left:682.4px;top:412.8px;width:54px">758,8</div>
<div class="lab" style="left:726.7px;top:628.2px;width:54px">250,0</div>
<div class="lab l17" style="left:781.5px;top:600.4px;width:54px">296,9</div>
<div class="lab l18" style="left:827.2px;top:624.0px;width:54px">249,1</div>
<div class="lab" style="left:870.6px;top:530.6px;width:54px">509,0</div>
<div class="lab l17" style="left:905.6px;top:500.6px;width:54px">524,3</div>
<div class="lab l18" style="left:961.2px;top:486.9px;width:54px">549,5</div>
<div class="lab" style="left:987.1px;top:316.6px;width:68px">1.007,0</div>
<div class="lab l17" style="left:1061.2px;top:337.9px;width:54px">958,3</div>
<div class="lab l18" style="left:1100.1px;top:364.5px;width:54px">930,1</div>
<div class="abs" style="left:996px;top:704.6px;width:122px;height:40px;background:#fdfdd6"></div>
<div class="abs t" style="left:1006.8px;top:710.2px;font:bold 23.7px 'Liberation Serif','DejaVu Serif',serif;line-height:1;color:#1b8ed8;">VMB</div>
<div class="abs t" style="left:1007.3px;top:734.7px;font:6.3px 'Liberation Serif','DejaVu Serif',serif;line-height:1;color:#1b8ed8;">Verband der Milcherzeuger Bayern e.V.</div>
<svg class="abs" style="left:1061px;top:706px" width="46" height="27" viewBox="0 0 120 70">
<g fill="#1b8ed8">
<path d="M57,23.5 C80,21.5 105,26 113.5,35.5 C120,45 106,57.5 82,61.8 C58,65.5 28,61 7,48 C28,56.5 46,58.8 60,58.3 C74,57.6 84.4,50 84.4,40.5 C84,31 73,25 57,23.5 Z"/>
<path d="M33,20.5 C55,15 86,15.5 104,23.5 C110,26.5 113,30 114,34 C108,28.5 97,24.5 83,22.3 C66,19.8 49,19.6 33,20.5 Z"/>
<ellipse cx="54.8" cy="40.2" rx="29.6" ry="14.9" fill="none" stroke="#1b8ed8" stroke-width="2.6"/>
<path d="M48.5,11.5 C52,14.5 58,14.5 60,10.5 C61,8.5 61,7.2 60.3,6 C62.6,8 62.8,11.5 60.5,13.5 C57,16.3 51,15.5 48.5,11.5 Z"/>
<path d="M52.8,21.5 L54.6,21.5 C54.6,26 54,30.5 52,33.5 L50.6,33.2 C52.3,30 52.9,26 52.8,21.5 Z"/>
<path d="M40.5,38.6 C43,36 47,34.2 51.5,33.6 C49.5,36 45.5,38 40.5,38.6 Z"/>
<path d="M57.8,34 C62,34.2 66.5,35.8 69.5,38.6 C65,38.6 60.5,37 57.8,34 Z"/>
</g></svg>
<div class="abs t" style="left:73.2px;top:829.4px;font:bold 16.4px 'DejaVu Sans','Liberation Sans',sans-serif;line-height:1;color:#000;">Quelle: EU-Milk Market Observatory</div>
</body></html>
